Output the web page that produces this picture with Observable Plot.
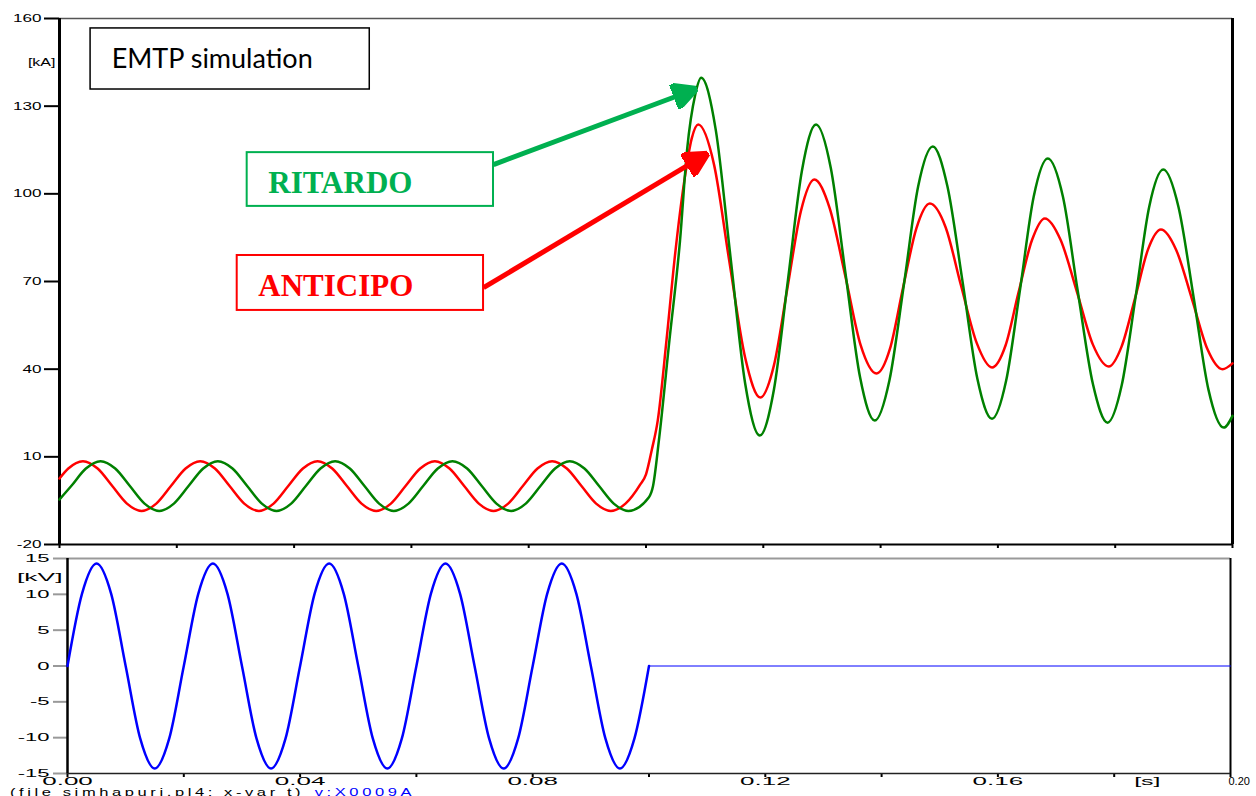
<!DOCTYPE html>
<html>
<head>
<meta charset="utf-8">
<script src="https://cdn.jsdelivr.net/npm/d3@7"></script>
<script src="https://cdn.jsdelivr.net/npm/@observablehq/plot@0.6"></script>
<style>
  html, body { margin: 0; padding: 0; background: #fff; }
  #chart { position: relative; width: 1256px; height: 796px; overflow: hidden; background: #fff; }
  #current { position: absolute; left: 0; top: 0; }
  #voltage { position: absolute; left: 0; top: 548px; }
  #footer {
    position: absolute; left: 10px; top: 788px; white-space: nowrap;
    font: 11px/9px "Liberation Sans", Arial, sans-serif; letter-spacing: 2.4px;
    transform: scaleX(1.5); transform-origin: 0 0; color: #000;
  }
  #footer .var { color: #0000ff; margin-left: 7px; }
</style>
</head>
<body>
<div id="chart">
  <div id="current"></div>
  <div id="voltage"></div>
  <div id="footer">(file simhapuri.pl4; x-var t)<span class="var">v:X0009A</span></div>
</div>
<script>
// Fault current, reclosing in advance (red) — time [s], current [kA]
const tAnticipo = [
  0, 0.0015, 0.004, 0.0065, 0.009, 0.0115, 0.014, 0.0165, 0.019, 0.0215,
  0.024, 0.0265, 0.029, 0.0315, 0.034, 0.0365, 0.039, 0.0415, 0.044, 0.0465,
  0.049, 0.0515, 0.054, 0.0565, 0.059, 0.0615, 0.064, 0.0665, 0.069, 0.0715,
  0.074, 0.0765, 0.079, 0.0815, 0.084, 0.0865, 0.089, 0.0915, 0.094, 0.0965,
  0.099, 0.1, 0.101, 0.102, 0.1035, 0.105, 0.1065, 0.1078, 0.1089, 0.1116,
  0.1142, 0.1169, 0.1195, 0.1218, 0.1241, 0.1264, 0.1287, 0.1313, 0.134, 0.1366,
  0.1393, 0.1416, 0.1438, 0.1461, 0.1484, 0.1511, 0.1537, 0.1564, 0.159, 0.1613,
  0.1635, 0.1658, 0.168, 0.1707, 0.1735, 0.1762, 0.1789, 0.1811, 0.1834, 0.1856,
  0.1878, 0.1904, 0.1931, 0.1957, 0.1983, 0.2
];
const iAnticipo = [
  2.6, 6.0, 8.5, 6.0, 0, -6.0, -8.5, -6.0, 0, 6.0,
  8.5, 6.0, 0, -6.0, -8.5, -6.0, 0, 6.0, 8.5, 6.0,
  0, -6.0, -8.5, -6.0, 0, 6.0, 8.5, 6.0, 0, -6.0,
  -8.5, -6.0, 0, 6.0, 8.5, 6.0, 0, -6.0, -8.5, -6.0,
  0.5, 4.0, 12.5, 22.4, 50, 80, 104, 119, 123.7, 110,
  77, 44, 30.3, 41.2, 67.6, 94, 104.9, 95.2, 71.7, 48.2,
  38.5, 47, 67.6, 88.2, 96.7, 88.5, 68.7, 48.9, 40.6, 48.1,
  66.1, 84.1, 91.6, 84.2, 66.3, 48.4, 40.9, 47.8, 64.4, 81,
  87.8, 80.8, 63.9, 47, 40, 42
];

// Fault current, delayed reclosing (green) — time [s], current [kA]
const tRitardo = [
  0, 0.002, 0.0045, 0.007, 0.0095, 0.012, 0.0145, 0.017, 0.0195, 0.022,
  0.0245, 0.027, 0.0295, 0.032, 0.0345, 0.037, 0.0395, 0.042, 0.0445, 0.047,
  0.0495, 0.052, 0.0545, 0.057, 0.0595, 0.062, 0.0645, 0.067, 0.0695, 0.072,
  0.0745, 0.077, 0.0795, 0.082, 0.0845, 0.087, 0.0895, 0.092, 0.0945, 0.097,
  0.1005, 0.1012, 0.1022, 0.104, 0.1058, 0.107, 0.1084, 0.1094, 0.1119, 0.1144,
  0.1169, 0.1194, 0.1218, 0.1242, 0.1266, 0.129, 0.1315, 0.134, 0.1365, 0.139,
  0.1415, 0.144, 0.1464, 0.1489, 0.1514, 0.154, 0.1565, 0.159, 0.1614, 0.1638,
  0.1661, 0.1685, 0.1711, 0.1736, 0.1762, 0.1787, 0.1811, 0.1835, 0.1858, 0.1882,
  0.1908, 0.1934, 0.1959, 0.1985, 0.2
];
const iRitardo = [
  -4.6, 0, 6.0, 8.5, 6.0, 0, -6.0, -8.5, -6.0, 0,
  6.0, 8.5, 6.0, 0, -6.0, -8.5, -6.0, 0, 6.0, 8.5,
  6.0, 0, -6.0, -8.5, -6.0, 0, 6.0, 8.5, 6.0, 0,
  -6.0, -8.5, -6.0, 0, 6.0, 8.5, 6.0, 0, -6.0, -8.5,
  -3.8, 0, 15.6, 50, 84, 115, 134, 139.7, 121.8, 78.5,
  35.2, 17.3, 32.9, 70.5, 108.1, 123.7, 108.9, 73, 37.2, 22.4,
  36.1, 69.3, 102.5, 116.2, 102.5, 69.6, 36.7, 23, 36, 67.6,
  99, 112.1, 98.9, 66.9, 34.9, 21.7, 34.4, 65, 95.6, 108.3,
  95.4, 64.2, 33, 20, 24
];

// Voltage at the measuring point (blue) — time [s], voltage [kV]
const tVoltage = [
  0, 0.0025, 0.005, 0.0075, 0.01, 0.0125, 0.015, 0.0175,
  0.02, 0.0225, 0.025, 0.0275, 0.03, 0.0325, 0.035, 0.0375,
  0.04, 0.0425, 0.045, 0.0475, 0.05, 0.0525, 0.055, 0.0575,
  0.06, 0.0625, 0.065, 0.0675, 0.07, 0.0725, 0.075, 0.0775,
  0.08, 0.0825, 0.085, 0.0875, 0.09, 0.0925, 0.095, 0.0975,
  0.1
];
const vVoltage = [
  0, 10.1, 14.3, 10.1, 0, -10.1, -14.3, -10.1,
  0, 10.1, 14.3, 10.1, 0, -10.1, -14.3, -10.1,
  0, 10.1, 14.3, 10.1, 0, -10.1, -14.3, -10.1,
  0, 10.1, 14.3, 10.1, 0, -10.1, -14.3, -10.1,
  0, 10.1, 14.3, 10.1, 0, -10.1, -14.3, -10.1,
  0
];
// After the breaker opens the voltage stays at zero
const tVoltageOff = [0.1, 0.2];
const vVoltageOff = [0, 0];

// Axis ticks and labels
const kATicks = [-20, 10, 40, 70, 100, 130, 160];
const kVTicks = [-15, -10, -5, 0, 5, 10, 15];
const timeTicks = [0, 0.02, 0.04, 0.06, 0.08, 0.10, 0.12, 0.14, 0.16, 0.18, 0.20];
const timeLabelValues = [0, 0.04, 0.08, 0.12, 0.16, 0.20];
const timeLabels = ["0.00", "0.04", "0.08", "0.12", "0.16", "0.20"];

// Annotation boxes and arrows, in data units (t, kA)
const titleBox = [{x1: 0.0053, x2: 0.0529, y1: 135.7, y2: 156.6, text: "EMTP simulation", tx: 0.0089, ty: 143.2}];
const ritardoBox = [{x1: 0.0320, x2: 0.0740, y1: 95.7, y2: 114.1, text: "RITARDO", tx: 0.0356, ty: 100.4}];
const anticipoBox = [{x1: 0.0303, x2: 0.0723, y1: 60.1, y2: 78.9, text: "ANTICIPO", tx: 0.0339, ty: 64.9}];
const ritardoArrow = [{x1: 0.0740, y1: 110.0, x2: 0.1076, y2: 135.2}];
const anticipoArrow = [{x1: 0.0723, y1: 67.9, x2: 0.1096, y2: 112.7}];

const SVGNS = "http://www.w3.org/2000/svg";

// Filled triangular arrowhead for the annotation arrows
function solidHead(color) {
  const m = document.createElementNS(SVGNS, "marker");
  m.setAttribute("viewBox", "0 -13 25 26");
  m.setAttribute("markerUnits", "userSpaceOnUse");
  m.setAttribute("markerWidth", 25);
  m.setAttribute("markerHeight", 26);
  m.setAttribute("refX", 18);
  m.setAttribute("refY", 0);
  m.setAttribute("orient", "auto");
  const p = document.createElementNS(SVGNS, "path");
  p.setAttribute("d", "M0,-13L25,0L0,13Z");
  p.setAttribute("fill", color);
  m.appendChild(p);
  return m;
}

// Stretch the plotter-style labels horizontally
function widen(svg, labels, factor) {
  for (const t of svg.querySelectorAll("text")) {
    if (!labels.includes(t.textContent)) continue;
    const w = t.getComputedTextLength();
    t.setAttribute("textLength", (w * factor).toFixed(1));
    t.setAttribute("lengthAdjust", "spacingAndGlyphs");
  }
}

const axisFont = "'Liberation Sans', Arial, sans-serif";

function currentPlot(head) {
  return Plot.plot({
    width: 1256,
    height: 548,
    marginTop: 18,
    marginRight: 24,
    marginBottom: 4,
    marginLeft: 59,
    x: {domain: [0, 0.2]},
    y: {domain: [-20, 160]},
    style: {fontFamily: axisFont, fontSize: "11px", color: "#000", background: "#fff", overflow: "visible"},
    marks: [
      Plot.ruleY([160], {stroke: "#555", strokeWidth: 1.5}),
      Plot.axisY({ticks: kATicks, tickSize: 15, tickPadding: 3, strokeWidth: 2, tickFormat: d => String(d), label: null}),
      Plot.axisX({ticks: timeTicks, tickSize: 4, strokeWidth: 2, tickFormat: () => "", label: null}),
      Plot.ruleY([-20], {stroke: "#000", strokeWidth: 2}),
      Plot.ruleX([0], {stroke: "#000", strokeWidth: 3}),
      Plot.ruleX([0.2], {stroke: "#000", strokeWidth: 3}),
      Plot.text(["[kA]"], {x: 0, y: 144.9, text: d => d, textAnchor: "end", dx: -4, fontSize: 10}),
      Plot.line(iAnticipo, {x: tAnticipo, y: iAnticipo, stroke: "#ff0000", strokeWidth: 2.5, curve: "monotone-x"}),
      Plot.line(iRitardo, {x: tRitardo, y: iRitardo, stroke: "#008000", strokeWidth: 2.5, curve: "monotone-x"}),
      Plot.rect(titleBox, {x1: "x1", x2: "x2", y1: "y1", y2: "y2", fill: "#fff", stroke: "#000", strokeWidth: 1.5}),
      Plot.text(titleBox, {x: "tx", y: "ty", text: "text", textAnchor: "start", lineAnchor: "bottom", fontFamily: "Lato, 'Open Sans', sans-serif", fontSize: 27, fill: "#000"}),
      Plot.rect(ritardoBox, {x1: "x1", x2: "x2", y1: "y1", y2: "y2", fill: "#fff", stroke: "#00b050", strokeWidth: 2}),
      Plot.text(ritardoBox, {x: "tx", y: "ty", text: "text", textAnchor: "start", lineAnchor: "bottom", fontFamily: "'Liberation Serif', 'Times New Roman', serif", fontWeight: "bold", fontSize: 31, fill: "#00b050"}),
      Plot.rect(anticipoBox, {x1: "x1", x2: "x2", y1: "y1", y2: "y2", fill: "#fff", stroke: "#ff0000", strokeWidth: 2}),
      Plot.text(anticipoBox, {x: "tx", y: "ty", text: "text", textAnchor: "start", lineAnchor: "bottom", fontFamily: "'Liberation Serif', 'Times New Roman', serif", fontWeight: "bold", fontSize: 31, fill: "#ff0000"}),
      Plot.link(ritardoArrow, {x1: "x1", y1: "y1", x2: "x2", y2: "y2", stroke: "#00b050", strokeWidth: 5, markerEnd: head}),
      Plot.link(anticipoArrow, {x1: "x1", y1: "y1", x2: "x2", y2: "y2", stroke: "#ff0000", strokeWidth: 5, markerEnd: head})
    ]
  });
}

let currentSvg;
try {
  currentSvg = currentPlot(solidHead);
} catch (e) {
  currentSvg = currentPlot("arrow");
}

const voltageSvg = Plot.plot({
  width: 1256,
  height: 248,
  marginTop: 10,
  marginRight: 26,
  marginBottom: 23,
  marginLeft: 67,
  x: {domain: [0, 0.2]},
  y: {domain: [-15, 15]},
  style: {fontFamily: axisFont, fontSize: "11px", color: "#000", background: "#fff", overflow: "visible"},
  marks: [
    Plot.ruleY([15], {stroke: "#999", strokeWidth: 2}),
    Plot.axisY({ticks: kVTicks, tickSize: 14, tickPadding: 4, stroke: "#999", strokeWidth: 2, tickFormat: d => String(d), label: null}),
    Plot.axisX({ticks: timeTicks, tickSize: 4, strokeWidth: 2, tickFormat: () => "", label: null}),
    Plot.axisX({
      ticks: timeLabelValues.slice(0, -1), tickSize: 0, tickPadding: 4, label: null, fontSize: 10,
      tickFormat: d => timeLabels[timeLabelValues.indexOf(d)]
    }),
    Plot.text(timeLabels.slice(-1), {x: timeLabelValues[timeLabelValues.length - 1], frameAnchor: "bottom", text: d => d, textAnchor: "start", lineAnchor: "top", dx: -2, dy: 4, fontSize: 11}),
    Plot.text(["[s]"], {x: 0.1857, frameAnchor: "bottom", text: d => d, lineAnchor: "top", dy: 4, fontSize: 10}),
    Plot.ruleY([-15], {stroke: "#222", strokeWidth: 1.5}),
    Plot.ruleX([0], {stroke: "#000", strokeWidth: 2.5}),
    Plot.ruleX([0.2], {stroke: "#000", strokeWidth: 2}),
    Plot.text(["[kV]"], {x: 0, y: 12.4, text: d => d, textAnchor: "end", dx: -5}),
    Plot.line(vVoltage, {x: tVoltage, y: vVoltage, stroke: "#0000ff", strokeWidth: 2.5, curve: "monotone-x"}),
    Plot.line(vVoltageOff, {x: tVoltageOff, y: vVoltageOff, stroke: "#0000ff", strokeWidth: 1})
  ]
});

document.getElementById("current").appendChild(currentSvg);
document.getElementById("voltage").appendChild(voltageSvg);

widen(currentSvg, kATicks.map(String), 1.55);
widen(currentSvg, ["[kA]"], 1.6);
widen(voltageSvg, kVTicks.map(String), 2.0);
widen(voltageSvg, ["[kV]"], 2.4);
widen(voltageSvg, timeLabels.slice(0, -1), 2.6);
widen(voltageSvg, ["[s]"], 2.5);
</script>
</body>
</html>
